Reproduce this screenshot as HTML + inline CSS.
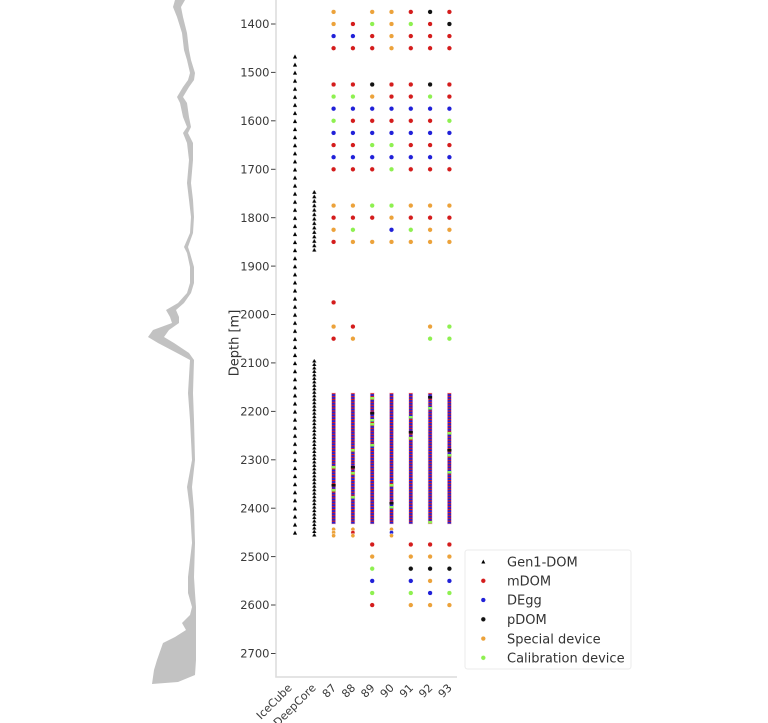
<!DOCTYPE html>
<html><head><meta charset="utf-8"><style>
html,body{margin:0;padding:0;background:#fff;}
svg{display:block;}
text{font-family:"DejaVu Sans","Liberation Sans",sans-serif;}
</style></head><body>
<svg width="768" height="723" viewBox="0 0 768 723" xmlns="http://www.w3.org/2000/svg">
<defs>
<pattern id="dense" patternUnits="userSpaceOnUse" x="0" y="393" width="1" height="2.9">
<rect x="0" y="0" width="1" height="2.9" fill="#2020d8"/>
<rect x="0" y="0" width="1" height="1.2" fill="#d81c1c"/>
</pattern>
<pattern id="ic" patternUnits="userSpaceOnUse" x="290" y="52.7" width="10" height="8.07">
<path d="M5 1.8 L7.1 5.8 L2.9 5.8 Z" fill="#000"/>
</pattern>
<pattern id="dc1" patternUnits="userSpaceOnUse" x="309.3" y="189.5" width="10" height="4.45">
<path d="M5 0.5 L7.1 4.3 L2.9 4.3 Z" fill="#000"/>
</pattern>
<pattern id="dc2" patternUnits="userSpaceOnUse" x="309.3" y="359" width="10" height="3.48">
<path d="M5 0 L7.1 3.48 L2.9 3.48 Z" fill="#000"/>
</pattern>
</defs>

<!-- gray profile -->
<path fill="#c2c2c2" d="M175 0 L173 7 L177 17 L182 33 L184 50 L187 60 L190 73 L188 80 L183 87 L177 97 L180 103 L183 117 L187 127 L183 133 L187 143 L189 160 L187 183 L189 200 L191 217 L190 233 L184 247 L187 253 L190 267 L190 283 L187 293 L178 303 L166 310 L170 317 L172 323 L153 330 L148 337 L158 343 L177 353 L190 360 L188 393 L190 420 L192 460 L187 487 L190 510 L192 543 L188 577 L188 593 L192 607 L190 615 L182 623 L186 630 L175 637 L163 643 L157 660 L154 670 L152 684 L178 682 L195 675 L196 660 L196 607 L195 593 L194 577 L195 543 L194 510 L192 487 L195 460 L194 420 L193 393 L194 360 L189 353 L174 343 L164 337 L169 330 L179 323 L179 317 L176 310 L184 303 L191 293 L194 283 L194 267 L190 253 L188 247 L193 233 L194 217 L193 200 L191 183 L193 160 L193 143 L188 133 L191 127 L189 117 L187 103 L183 97 L189 87 L194 80 L195 73 L191 60 L189 50 L187 33 L183 17 L181 7 L185 0 Z"/>

<!-- spines -->
<line x1="276" y1="0" x2="276" y2="677.5" stroke="#dcdcdc" stroke-width="1.5"/>
<line x1="275.3" y1="677" x2="457" y2="677" stroke="#dcdcdc" stroke-width="1.5"/>

<!-- y ticks -->
<g stroke="#444" stroke-width="1">
<line x1="271" y1="24" x2="275.5" y2="24"/>
<line x1="271" y1="72.4" x2="275.5" y2="72.4"/>
<line x1="271" y1="120.8" x2="275.5" y2="120.8"/>
<line x1="271" y1="169.3" x2="275.5" y2="169.3"/>
<line x1="271" y1="217.7" x2="275.5" y2="217.7"/>
<line x1="271" y1="266.1" x2="275.5" y2="266.1"/>
<line x1="271" y1="314.5" x2="275.5" y2="314.5"/>
<line x1="271" y1="362.9" x2="275.5" y2="362.9"/>
<line x1="271" y1="411.4" x2="275.5" y2="411.4"/>
<line x1="271" y1="459.8" x2="275.5" y2="459.8"/>
<line x1="271" y1="508.2" x2="275.5" y2="508.2"/>
<line x1="271" y1="556.6" x2="275.5" y2="556.6"/>
<line x1="271" y1="605" x2="275.5" y2="605"/>
<line x1="271" y1="653.5" x2="275.5" y2="653.5"/>
</g>
<g font-size="11.5" fill="#3a3a3a" text-anchor="end">
<text x="269.5" y="28.2">1400</text>
<text x="269.5" y="76.6">1500</text>
<text x="269.5" y="125">1600</text>
<text x="269.5" y="173.5">1700</text>
<text x="269.5" y="221.9">1800</text>
<text x="269.5" y="270.3">1900</text>
<text x="269.5" y="318.7">2000</text>
<text x="269.5" y="367.1">2100</text>
<text x="269.5" y="415.6">2200</text>
<text x="269.5" y="464">2300</text>
<text x="269.5" y="512.4">2400</text>
<text x="269.5" y="560.8">2500</text>
<text x="269.5" y="609.2">2600</text>
<text x="269.5" y="657.7">2700</text>
</g>
<text x="0" y="0" font-size="13" fill="#333" text-anchor="middle" transform="translate(238.5,343) rotate(-90)">Depth [m]</text>

<!-- x labels -->
<g font-size="11" fill="#3a3a3a" text-anchor="end">
<text transform="translate(292.5,688.5) rotate(-45)">IceCube</text>
<text transform="translate(316.5,688.5) rotate(-45)">DeepCore</text>
<text transform="translate(336.8,688.5) rotate(-45)">87</text>
<text transform="translate(356.1,688.5) rotate(-45)">88</text>
<text transform="translate(375.4,688.5) rotate(-45)">89</text>
<text transform="translate(394.7,688.5) rotate(-45)">90</text>
<text transform="translate(414,688.5) rotate(-45)">91</text>
<text transform="translate(433.3,688.5) rotate(-45)">92</text>
<text transform="translate(452.6,688.5) rotate(-45)">93</text>
</g>

<!-- Gen1 triangles -->
<rect x="290" y="52.7" width="10" height="484.2" fill="url(#ic)"/>
<rect x="309.3" y="189.5" width="10" height="62.3" fill="url(#dc1)"/>
<rect x="309.3" y="359" width="10" height="177.5" fill="url(#dc2)"/>

<!-- dense columns -->
<g fill="url(#dense)" stroke="#f2c8d8" stroke-width="0.5">
<rect x="331.6" y="393" width="4" height="131"/>
<rect x="350.9" y="393" width="4" height="131"/>
<rect x="370.2" y="393" width="4" height="131"/>
<rect x="389.5" y="393" width="4" height="131"/>
<rect x="408.8" y="393" width="4" height="131"/>
<rect x="428.1" y="393" width="4" height="131"/>
<rect x="447.4" y="393" width="4" height="131"/>
</g>
<g>
<rect x="331.6" y="466" width="4" height="2.5" fill="#8ef050"/>
<rect x="331.6" y="484" width="4" height="2.5" fill="#111"/>
<rect x="331.6" y="489" width="4" height="2.5" fill="#8ef050"/>
<rect x="350.9" y="449" width="4" height="2.5" fill="#8ef050"/>
<rect x="350.9" y="466" width="4" height="2.5" fill="#111"/>
<rect x="350.9" y="472" width="4" height="2.5" fill="#8ef050"/>
<rect x="350.9" y="496" width="4" height="2.5" fill="#8ef050"/>
<rect x="370.2" y="397" width="4" height="2.5" fill="#8ef050"/>
<rect x="370.2" y="412" width="4" height="2.5" fill="#111"/>
<rect x="370.2" y="419" width="4" height="2.5" fill="#8ef050"/>
<rect x="370.2" y="423" width="4" height="2.5" fill="#8ef050"/>
<rect x="370.2" y="444" width="4" height="2.5" fill="#8ef050"/>
<rect x="389.5" y="484" width="4" height="2.5" fill="#8ef050"/>
<rect x="389.5" y="502" width="4" height="2.5" fill="#111"/>
<rect x="389.5" y="506" width="4" height="2.5" fill="#8ef050"/>
<rect x="408.8" y="416" width="4" height="2.5" fill="#8ef050"/>
<rect x="408.8" y="431" width="4" height="2.5" fill="#111"/>
<rect x="408.8" y="437" width="4" height="2.5" fill="#8ef050"/>
<rect x="428.1" y="396" width="4" height="2.5" fill="#111"/>
<rect x="428.1" y="407" width="4" height="2.5" fill="#8ef050"/>
<rect x="428.1" y="521" width="4" height="2.5" fill="#8ef050"/>
<rect x="447.4" y="432" width="4" height="2.5" fill="#8ef050"/>
<rect x="447.4" y="449" width="4" height="2.5" fill="#111"/>
<rect x="447.4" y="454" width="4" height="2.5" fill="#8ef050"/>
<rect x="447.4" y="471" width="4" height="2.5" fill="#8ef050"/>
</g>

<!-- dots -->
<g stroke="#fff" stroke-width="0.5">
<circle cx="333.6" cy="11.9" r="2.4" fill="#eca23a"/>
<circle cx="372.2" cy="11.9" r="2.4" fill="#eca23a"/>
<circle cx="391.5" cy="11.9" r="2.4" fill="#eca23a"/>
<circle cx="410.8" cy="11.9" r="2.4" fill="#d41c1c"/>
<circle cx="430.1" cy="11.9" r="2.4" fill="#111"/>
<circle cx="449.4" cy="11.9" r="2.4" fill="#d41c1c"/>
<circle cx="333.6" cy="24" r="2.4" fill="#eca23a"/>
<circle cx="352.9" cy="24" r="2.4" fill="#d41c1c"/>
<circle cx="372.2" cy="24" r="2.4" fill="#8ef050"/>
<circle cx="391.5" cy="24" r="2.4" fill="#eca23a"/>
<circle cx="410.8" cy="24" r="2.4" fill="#8ef050"/>
<circle cx="430.1" cy="24" r="2.4" fill="#d41c1c"/>
<circle cx="449.4" cy="24" r="2.4" fill="#111"/>
<circle cx="333.6" cy="36.1" r="2.4" fill="#2020d8"/>
<circle cx="352.9" cy="36.1" r="2.4" fill="#2020d8"/>
<circle cx="372.2" cy="36.1" r="2.4" fill="#d41c1c"/>
<circle cx="391.5" cy="36.1" r="2.4" fill="#eca23a"/>
<circle cx="410.8" cy="36.1" r="2.4" fill="#d41c1c"/>
<circle cx="430.1" cy="36.1" r="2.4" fill="#d41c1c"/>
<circle cx="449.4" cy="36.1" r="2.4" fill="#d41c1c"/>
<circle cx="333.6" cy="48.2" r="2.4" fill="#d41c1c"/>
<circle cx="352.9" cy="48.2" r="2.4" fill="#d41c1c"/>
<circle cx="372.2" cy="48.2" r="2.4" fill="#d41c1c"/>
<circle cx="391.5" cy="48.2" r="2.4" fill="#eca23a"/>
<circle cx="410.8" cy="48.2" r="2.4" fill="#d41c1c"/>
<circle cx="430.1" cy="48.2" r="2.4" fill="#d41c1c"/>
<circle cx="449.4" cy="48.2" r="2.4" fill="#d41c1c"/>
<circle cx="333.6" cy="84.5" r="2.4" fill="#d41c1c"/>
<circle cx="352.9" cy="84.5" r="2.4" fill="#d41c1c"/>
<circle cx="372.2" cy="84.5" r="2.4" fill="#111"/>
<circle cx="391.5" cy="84.5" r="2.4" fill="#d41c1c"/>
<circle cx="410.8" cy="84.5" r="2.4" fill="#d41c1c"/>
<circle cx="430.1" cy="84.5" r="2.4" fill="#111"/>
<circle cx="449.4" cy="84.5" r="2.4" fill="#d41c1c"/>
<circle cx="333.6" cy="96.6" r="2.4" fill="#8ef050"/>
<circle cx="352.9" cy="96.6" r="2.4" fill="#8ef050"/>
<circle cx="372.2" cy="96.6" r="2.4" fill="#eca23a"/>
<circle cx="391.5" cy="96.6" r="2.4" fill="#d41c1c"/>
<circle cx="410.8" cy="96.6" r="2.4" fill="#d41c1c"/>
<circle cx="430.1" cy="96.6" r="2.4" fill="#8ef050"/>
<circle cx="449.4" cy="96.6" r="2.4" fill="#d41c1c"/>
<circle cx="333.6" cy="108.7" r="2.4" fill="#2020d8"/>
<circle cx="352.9" cy="108.7" r="2.4" fill="#2020d8"/>
<circle cx="372.2" cy="108.7" r="2.4" fill="#2020d8"/>
<circle cx="391.5" cy="108.7" r="2.4" fill="#2020d8"/>
<circle cx="410.8" cy="108.7" r="2.4" fill="#2020d8"/>
<circle cx="430.1" cy="108.7" r="2.4" fill="#2020d8"/>
<circle cx="449.4" cy="108.7" r="2.4" fill="#2020d8"/>
<circle cx="333.6" cy="120.8" r="2.4" fill="#8ef050"/>
<circle cx="352.9" cy="120.8" r="2.4" fill="#d41c1c"/>
<circle cx="372.2" cy="120.8" r="2.4" fill="#d41c1c"/>
<circle cx="391.5" cy="120.8" r="2.4" fill="#d41c1c"/>
<circle cx="410.8" cy="120.8" r="2.4" fill="#d41c1c"/>
<circle cx="430.1" cy="120.8" r="2.4" fill="#d41c1c"/>
<circle cx="449.4" cy="120.8" r="2.4" fill="#8ef050"/>
<circle cx="333.6" cy="132.9" r="2.4" fill="#2020d8"/>
<circle cx="352.9" cy="132.9" r="2.4" fill="#2020d8"/>
<circle cx="372.2" cy="132.9" r="2.4" fill="#2020d8"/>
<circle cx="391.5" cy="132.9" r="2.4" fill="#2020d8"/>
<circle cx="410.8" cy="132.9" r="2.4" fill="#2020d8"/>
<circle cx="430.1" cy="132.9" r="2.4" fill="#2020d8"/>
<circle cx="449.4" cy="132.9" r="2.4" fill="#2020d8"/>
<circle cx="333.6" cy="145.1" r="2.4" fill="#d41c1c"/>
<circle cx="352.9" cy="145.1" r="2.4" fill="#d41c1c"/>
<circle cx="372.2" cy="145.1" r="2.4" fill="#8ef050"/>
<circle cx="391.5" cy="145.1" r="2.4" fill="#8ef050"/>
<circle cx="410.8" cy="145.1" r="2.4" fill="#d41c1c"/>
<circle cx="430.1" cy="145.1" r="2.4" fill="#d41c1c"/>
<circle cx="449.4" cy="145.1" r="2.4" fill="#d41c1c"/>
<circle cx="333.6" cy="157.2" r="2.4" fill="#2020d8"/>
<circle cx="352.9" cy="157.2" r="2.4" fill="#2020d8"/>
<circle cx="372.2" cy="157.2" r="2.4" fill="#2020d8"/>
<circle cx="391.5" cy="157.2" r="2.4" fill="#2020d8"/>
<circle cx="410.8" cy="157.2" r="2.4" fill="#2020d8"/>
<circle cx="430.1" cy="157.2" r="2.4" fill="#2020d8"/>
<circle cx="449.4" cy="157.2" r="2.4" fill="#2020d8"/>
<circle cx="333.6" cy="169.3" r="2.4" fill="#d41c1c"/>
<circle cx="352.9" cy="169.3" r="2.4" fill="#d41c1c"/>
<circle cx="372.2" cy="169.3" r="2.4" fill="#d41c1c"/>
<circle cx="391.5" cy="169.3" r="2.4" fill="#8ef050"/>
<circle cx="410.8" cy="169.3" r="2.4" fill="#d41c1c"/>
<circle cx="430.1" cy="169.3" r="2.4" fill="#d41c1c"/>
<circle cx="449.4" cy="169.3" r="2.4" fill="#d41c1c"/>
<circle cx="333.6" cy="205.6" r="2.4" fill="#eca23a"/>
<circle cx="352.9" cy="205.6" r="2.4" fill="#eca23a"/>
<circle cx="372.2" cy="205.6" r="2.4" fill="#8ef050"/>
<circle cx="391.5" cy="205.6" r="2.4" fill="#8ef050"/>
<circle cx="410.8" cy="205.6" r="2.4" fill="#eca23a"/>
<circle cx="430.1" cy="205.6" r="2.4" fill="#eca23a"/>
<circle cx="449.4" cy="205.6" r="2.4" fill="#eca23a"/>
<circle cx="333.6" cy="217.7" r="2.4" fill="#d41c1c"/>
<circle cx="352.9" cy="217.7" r="2.4" fill="#d41c1c"/>
<circle cx="372.2" cy="217.7" r="2.4" fill="#d41c1c"/>
<circle cx="391.5" cy="217.7" r="2.4" fill="#eca23a"/>
<circle cx="410.8" cy="217.7" r="2.4" fill="#d41c1c"/>
<circle cx="430.1" cy="217.7" r="2.4" fill="#d41c1c"/>
<circle cx="449.4" cy="217.7" r="2.4" fill="#d41c1c"/>
<circle cx="333.6" cy="229.8" r="2.4" fill="#eca23a"/>
<circle cx="352.9" cy="229.8" r="2.4" fill="#8ef050"/>
<circle cx="391.5" cy="229.8" r="2.4" fill="#2020d8"/>
<circle cx="410.8" cy="229.8" r="2.4" fill="#8ef050"/>
<circle cx="430.1" cy="229.8" r="2.4" fill="#eca23a"/>
<circle cx="449.4" cy="229.8" r="2.4" fill="#eca23a"/>
<circle cx="333.6" cy="241.9" r="2.4" fill="#d41c1c"/>
<circle cx="352.9" cy="241.9" r="2.4" fill="#eca23a"/>
<circle cx="372.2" cy="241.9" r="2.4" fill="#eca23a"/>
<circle cx="391.5" cy="241.9" r="2.4" fill="#eca23a"/>
<circle cx="410.8" cy="241.9" r="2.4" fill="#eca23a"/>
<circle cx="430.1" cy="241.9" r="2.4" fill="#eca23a"/>
<circle cx="449.4" cy="241.9" r="2.4" fill="#eca23a"/>
<circle cx="333.6" cy="302.4" r="2.4" fill="#d41c1c"/>
<circle cx="333.6" cy="326.6" r="2.4" fill="#eca23a"/>
<circle cx="352.9" cy="326.6" r="2.4" fill="#d41c1c"/>
<circle cx="430.1" cy="326.6" r="2.4" fill="#eca23a"/>
<circle cx="449.4" cy="326.6" r="2.4" fill="#8ef050"/>
<circle cx="333.6" cy="338.7" r="2.4" fill="#d41c1c"/>
<circle cx="352.9" cy="338.7" r="2.4" fill="#eca23a"/>
<circle cx="430.1" cy="338.7" r="2.4" fill="#8ef050"/>
<circle cx="449.4" cy="338.7" r="2.4" fill="#8ef050"/>
<circle cx="333.6" cy="529.3" r="2.1" fill="#eca23a"/>
<circle cx="333.6" cy="532.5" r="2.1" fill="#eca23a"/>
<circle cx="333.6" cy="535.7" r="2.1" fill="#eca23a"/>
<circle cx="352.9" cy="529.3" r="2.1" fill="#eca23a"/>
<circle cx="352.9" cy="532.5" r="2.1" fill="#d41c1c"/>
<circle cx="352.9" cy="535.7" r="2.1" fill="#eca23a"/>
<circle cx="391.5" cy="529.3" r="2.1" fill="#eca23a"/>
<circle cx="391.5" cy="532.5" r="2.1" fill="#2020d8"/>
<circle cx="391.5" cy="535.7" r="2.1" fill="#eca23a"/>
<circle cx="372.2" cy="544.5" r="2.4" fill="#d41c1c"/>
<circle cx="410.8" cy="544.5" r="2.4" fill="#d41c1c"/>
<circle cx="430.1" cy="544.5" r="2.4" fill="#d41c1c"/>
<circle cx="449.4" cy="544.5" r="2.4" fill="#d41c1c"/>
<circle cx="372.2" cy="556.6" r="2.4" fill="#eca23a"/>
<circle cx="410.8" cy="556.6" r="2.4" fill="#eca23a"/>
<circle cx="430.1" cy="556.6" r="2.4" fill="#eca23a"/>
<circle cx="449.4" cy="556.6" r="2.4" fill="#eca23a"/>
<circle cx="372.2" cy="568.7" r="2.4" fill="#8ef050"/>
<circle cx="410.8" cy="568.7" r="2.4" fill="#111"/>
<circle cx="430.1" cy="568.7" r="2.4" fill="#111"/>
<circle cx="449.4" cy="568.7" r="2.4" fill="#111"/>
<circle cx="372.2" cy="580.9" r="2.4" fill="#2020d8"/>
<circle cx="410.8" cy="580.9" r="2.4" fill="#2020d8"/>
<circle cx="430.1" cy="580.9" r="2.4" fill="#eca23a"/>
<circle cx="449.4" cy="580.9" r="2.4" fill="#2020d8"/>
<circle cx="372.2" cy="593" r="2.4" fill="#8ef050"/>
<circle cx="410.8" cy="593" r="2.4" fill="#8ef050"/>
<circle cx="430.1" cy="593" r="2.4" fill="#2020d8"/>
<circle cx="449.4" cy="593" r="2.4" fill="#8ef050"/>
<circle cx="372.2" cy="605.1" r="2.4" fill="#d41c1c"/>
<circle cx="410.8" cy="605.1" r="2.4" fill="#eca23a"/>
<circle cx="430.1" cy="605.1" r="2.4" fill="#eca23a"/>
<circle cx="449.4" cy="605.1" r="2.4" fill="#eca23a"/>
</g>

<!-- legend -->
<rect x="465" y="550" width="166" height="119" rx="2.5" fill="#fff" fill-opacity="0.85" stroke="#ebebeb" stroke-width="1"/>
<path d="M483.3 559.6 L485.3 563.5 L481.3 563.5 Z" fill="#000"/>
<g stroke="#fff" stroke-width="0.5">
<circle cx="483.3" cy="580.8" r="2.4" fill="#d41c1c"/>
<circle cx="483.3" cy="600" r="2.4" fill="#2020d8"/>
<circle cx="483.3" cy="619.3" r="2.4" fill="#111"/>
<circle cx="483.3" cy="638.6" r="2.4" fill="#eca23a"/>
<circle cx="483.3" cy="657.8" r="2.4" fill="#8ef050"/>
</g>
<g font-size="13" fill="#333">
<text x="507" y="566.3">Gen1-DOM</text>
<text x="507" y="585.5">mDOM</text>
<text x="507" y="604.7">DEgg</text>
<text x="507" y="624">pDOM</text>
<text x="507" y="643.3">Special device</text>
<text x="507" y="662.5">Calibration device</text>
</g>
</svg>
</body></html>
